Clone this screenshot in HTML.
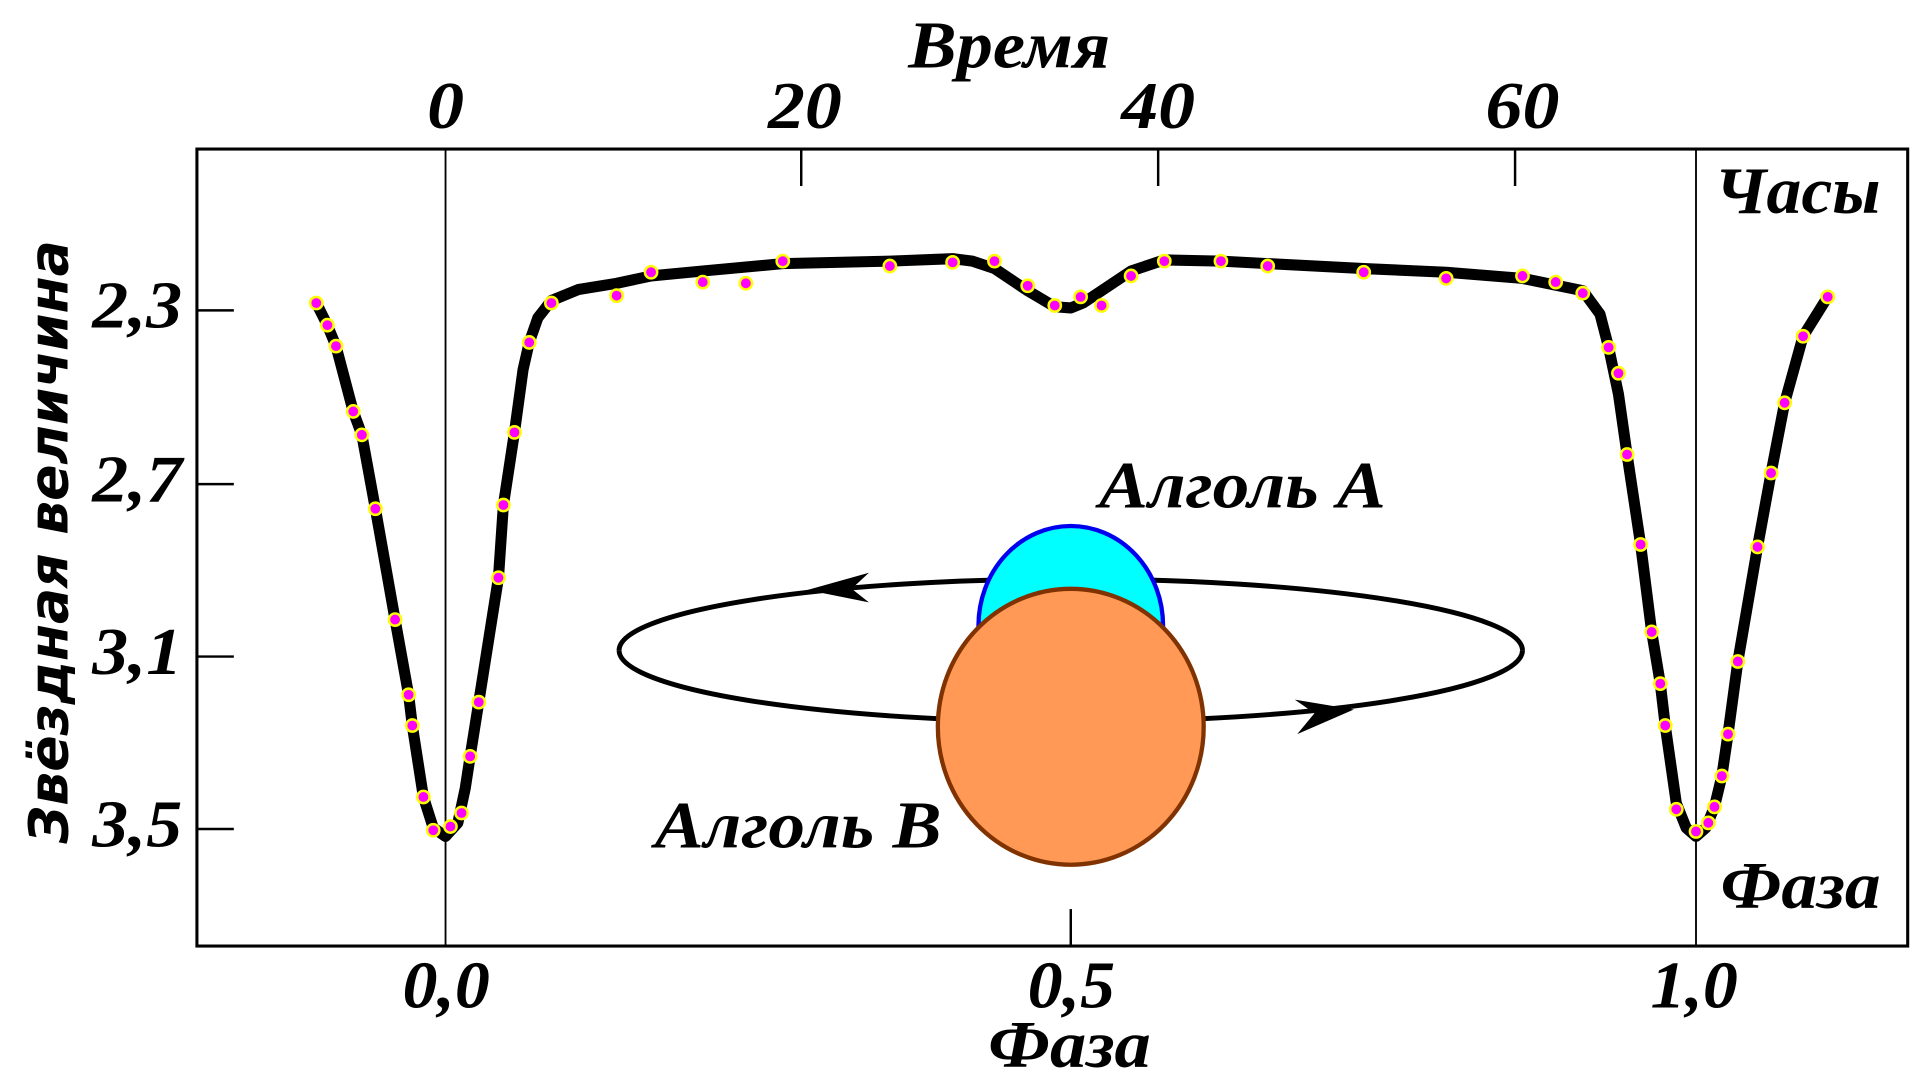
<!DOCTYPE html>
<html><head><meta charset="utf-8"><style>html,body{margin:0;padding:0;background:#fff}svg{display:block}text{font-family:"Liberation Serif",serif;font-style:italic;font-weight:bold;fill:#000}</style></head>
<body>
<svg width="1920" height="1084" viewBox="0 0 1560 880" preserveAspectRatio="none" xmlns="http://www.w3.org/2000/svg">
<rect x="160" y="121" width="1390" height="647" fill="none" stroke="#000" stroke-width="2.5"/>
<line x1="362" y1="121" x2="362" y2="768" stroke="#000" stroke-width="1.5"/>
<line x1="1378" y1="121" x2="1378" y2="768" stroke="#000" stroke-width="1.5"/>
<g stroke="#000" stroke-width="2">
<line x1="651" y1="121" x2="651" y2="151"/><line x1="941" y1="121" x2="941" y2="151"/><line x1="1231" y1="121" x2="1231" y2="151"/>
<line x1="870" y1="738" x2="870" y2="768"/>
<line x1="160" y1="252" x2="190" y2="252"/><line x1="160" y1="393" x2="190" y2="393"/><line x1="160" y1="533" x2="190" y2="533"/><line x1="160" y1="673" x2="190" y2="673"/>
</g>
<g font-size="54" lengthAdjust="spacingAndGlyphs">
<text x="738" y="55" textLength="164" lengthAdjust="spacingAndGlyphs">Время</text>
<text x="347" y="104" textLength="30" lengthAdjust="spacingAndGlyphs">0</text>
<text x="624" y="104" textLength="60" lengthAdjust="spacingAndGlyphs">20</text>
<text x="911" y="104" textLength="60" lengthAdjust="spacingAndGlyphs">40</text>
<text x="1207" y="104" textLength="60" lengthAdjust="spacingAndGlyphs">60</text>
<text x="1393" y="173" textLength="135" lengthAdjust="spacingAndGlyphs">Часы</text>
<text x="1398" y="737" textLength="130" lengthAdjust="spacingAndGlyphs">Фаза</text>
<text x="327" y="818" textLength="71" lengthAdjust="spacingAndGlyphs">0,0</text>
<text x="835" y="818" textLength="71" lengthAdjust="spacingAndGlyphs">0,5</text>
<text x="1341" y="818" textLength="71" lengthAdjust="spacingAndGlyphs">1,0</text>
<text x="803" y="866" textLength="132" lengthAdjust="spacingAndGlyphs">Фаза</text>
<text x="75" y="266" textLength="73" lengthAdjust="spacingAndGlyphs">2,3</text>
<text x="75" y="407" textLength="73" lengthAdjust="spacingAndGlyphs">2,7</text>
<text x="75" y="547" textLength="73" lengthAdjust="spacingAndGlyphs">3,1</text>
<text x="75" y="687" textLength="73" lengthAdjust="spacingAndGlyphs">3,5</text>
<text x="893" y="412" textLength="233" lengthAdjust="spacingAndGlyphs">Алголь A</text>
<text x="532" y="688" textLength="233" lengthAdjust="spacingAndGlyphs">Алголь B</text>
</g>
<text transform="translate(55,685) rotate(-90)" font-family="DejaVu Sans" font-size="44" textLength="490" lengthAdjust="spacingAndGlyphs" style="font-family:'DejaVu Sans',sans-serif">Звёздная величина</text>
<path d="M503,528 A367,58 0 0 1 1237,528" fill="none" stroke="#000" stroke-width="4"/>
<ellipse cx="870" cy="508" rx="75" ry="81" fill="#00ffff" stroke="#0000ee" stroke-width="3.5"/>
<path d="M1237,528 A367,58 0 0 1 503,528" fill="none" stroke="#000" stroke-width="4"/>
<polygon points="656,479 706,465 692,478 706,489" fill="#000"/>
<polygon points="1100,576 1054,596 1068,579 1052,568" fill="#000"/>
<ellipse cx="870" cy="590" rx="108" ry="112" fill="#ff9955" stroke="#803300" stroke-width="3.5"/>
<polyline fill="none" stroke="#000" stroke-width="9" stroke-linejoin="round" stroke-linecap="round" points="257,246 266,264 273,281 287,334 294,353 305,413 321,503 332,564 335,589 344,647 352,672 362,679 372,668 378,640 382,614 389,570 405,469 409,410 418,351 425,300 430,278 437,258 448,244 470,235 501,230 529,224 571,220 636,214 723,212 774,210 790,212 808,218 835,236 857,249 870,250 880,246 895,236 919,220 946,211 992,212 1030,214 1108,218 1175,221 1237,226 1286,236 1300,255 1307,282 1315,320 1322,369 1333,442 1342,513 1349,555 1353,589 1362,652 1370,672 1378,679 1386,672 1393,655 1399,630 1404,596 1412,537 1428,444 1439,384 1450,327 1465,273 1485,241"/>
<g fill="#ff00ff" stroke="#ffff00" stroke-width="2">
<circle cx="257" cy="246" r="5"/><circle cx="266" cy="264" r="5"/><circle cx="273" cy="281" r="5"/><circle cx="287" cy="334" r="5"/><circle cx="294" cy="353" r="5"/><circle cx="305" cy="413" r="5"/><circle cx="321" cy="503" r="5"/><circle cx="332" cy="564" r="5"/><circle cx="335" cy="589" r="5"/><circle cx="344" cy="647" r="5"/><circle cx="352" cy="674" r="5"/><circle cx="366" cy="671" r="5"/><circle cx="375" cy="660" r="5"/><circle cx="382" cy="614" r="5"/><circle cx="389" cy="570" r="5"/><circle cx="405" cy="469" r="5"/><circle cx="409" cy="410" r="5"/><circle cx="418" cy="351" r="5"/><circle cx="430" cy="278" r="5"/><circle cx="448" cy="246" r="5"/><circle cx="501" cy="240" r="5"/><circle cx="529" cy="221" r="5"/><circle cx="571" cy="229" r="5"/><circle cx="606" cy="230" r="5"/><circle cx="636" cy="212" r="5"/><circle cx="723" cy="216" r="5"/><circle cx="774" cy="213" r="5"/><circle cx="808" cy="212" r="5"/><circle cx="835" cy="232" r="5"/><circle cx="857" cy="248" r="5"/><circle cx="878" cy="241" r="5"/><circle cx="895" cy="248" r="5"/><circle cx="919" cy="224" r="5"/><circle cx="946" cy="212" r="5"/><circle cx="992" cy="212" r="5"/><circle cx="1030" cy="216" r="5"/><circle cx="1108" cy="221" r="5"/><circle cx="1175" cy="226" r="5"/><circle cx="1237" cy="224" r="5"/><circle cx="1264" cy="229" r="5"/><circle cx="1286" cy="238" r="5"/><circle cx="1307" cy="282" r="5"/><circle cx="1315" cy="303" r="5"/><circle cx="1322" cy="369" r="5"/><circle cx="1333" cy="442" r="5"/><circle cx="1342" cy="513" r="5"/><circle cx="1349" cy="555" r="5"/><circle cx="1353" cy="589" r="5"/><circle cx="1362" cy="657" r="5"/><circle cx="1378" cy="675" r="5"/><circle cx="1388" cy="668" r="5"/><circle cx="1393" cy="655" r="5"/><circle cx="1399" cy="630" r="5"/><circle cx="1404" cy="596" r="5"/><circle cx="1412" cy="537" r="5"/><circle cx="1428" cy="444" r="5"/><circle cx="1439" cy="384" r="5"/><circle cx="1450" cy="327" r="5"/><circle cx="1465" cy="273" r="5"/><circle cx="1485" cy="241" r="5"/>
</g>
</svg>
</body></html>
